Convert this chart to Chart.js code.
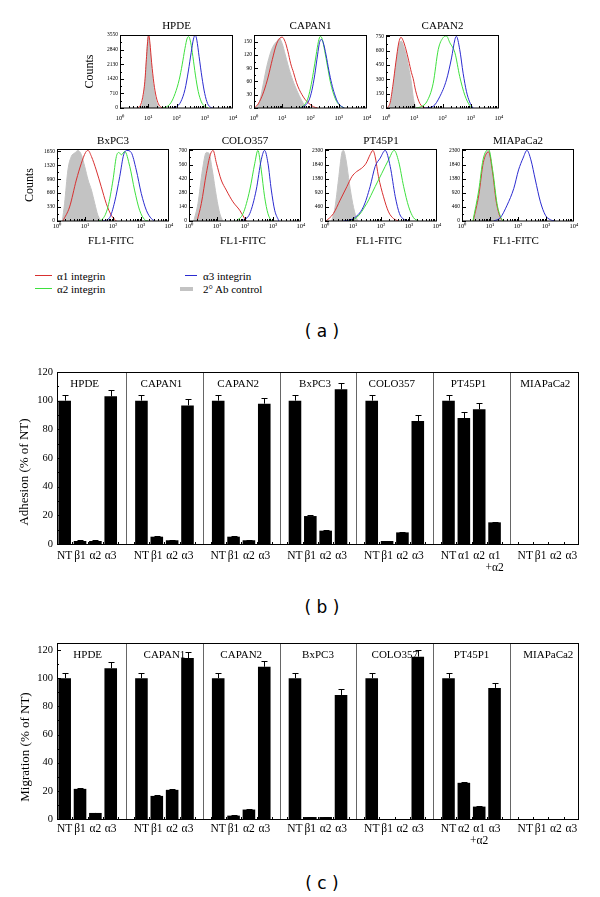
<!DOCTYPE html>
<html><head><meta charset="utf-8">
<script src="https://cdn.jsdelivr.net/npm/chart.js@4.4.0/dist/chart.umd.min.js"></script>
<style>
html,body{margin:0;padding:0;background:#fff;}
body{width:600px;height:897px;position:relative;overflow:hidden;font-family:"Liberation Serif",serif;color:#000;}
canvas{position:absolute;}
.lab{position:absolute;font-family:"DejaVu Sans",sans-serif;font-size:17px;line-height:20px;white-space:pre;transform:translate(-50%,-50%);}
.leg{position:absolute;font-size:11px;line-height:12px;white-space:nowrap;transform:translateY(-50%);}
.sw{position:absolute;}
</style></head><body>

<div class="sw" style="left:35px;top:275px;width:17px;height:1px;background:#d83030"></div>
<div class="leg" style="left:57px;top:276px">α1 integrin</div>
<div class="sw" style="left:35px;top:288px;width:17px;height:1px;background:#3ee03e"></div>
<div class="leg" style="left:57px;top:289px">α2 integrin</div>
<div class="sw" style="left:185px;top:275px;width:12px;height:1px;background:#2b2bd0"></div>
<div class="leg" style="left:203px;top:276px">α3 integrin</div>
<div class="sw" style="left:180px;top:287px;width:13px;height:4px;background:#c3c3c3"></div>
<div class="leg" style="left:203px;top:289px">2° Ab control</div>

<div class="lab" style="left:322px;top:331px">( a )</div>
<div class="lab" style="left:322px;top:607px">( b )</div>
<div class="lab" style="left:322px;top:883px">( c )</div>

<script>
// ---------------- DATA ----------------
const cellLines = ['HPDE','CAPAN1','CAPAN2','BxPC3','COLO357','PT45P1','MIAPaCa2'];

// (a) flow cytometry histograms: [log10(FL1-FITC), counts]
const decadeTicks = [0,1,2,3,4];
const decadeLabels = ['10⁰','10¹','10²','10³','10⁴'];

const hpdeCountTicks = [0,710,1420,2130,2840,3550];
const capan1CountTicks = [0,30,60,90,120,150];
const capan2CountTicks = [0,150,300,450,600,750];
const bxpc3CountTicks = [0,330,660,990,1320,1650];
const colo357CountTicks = [0,140,280,420,560,700];
const pt45p1CountTicks = [0,460,920,1380,1840,2300];
const miapaca2CountTicks = [0,460,920,1380,1840,2300];

const hpdeCtrl = [[0.72,0],[0.8,250],[0.88,1100],[0.94,2400],[0.98,3300],[1.01,3500],[1.05,3100],[1.1,2200],[1.17,1200],[1.25,500],[1.33,150],[1.42,0]];
const hpdeA1 = [[0.62,0],[0.72,120],[0.8,500],[0.88,1300],[0.94,2500],[0.99,3400],[1.02,3550],[1.06,3150],[1.12,2200],[1.2,1200],[1.28,550],[1.36,200],[1.45,40],[1.52,0]];
const hpdeA2 = [[1.5,0],[1.65,60],[1.8,250],[1.95,700],[2.1,1400],[2.2,2100],[2.3,2900],[2.38,3400],[2.43,3470],[2.5,3200],[2.58,2500],[2.67,1600],[2.77,800],[2.88,300],[3.0,80],[3.12,0]];
const hpdeA3 = [[1.85,0],[2.0,60],[2.15,300],[2.3,900],[2.42,1800],[2.52,2700],[2.6,3350],[2.66,3550],[2.72,3300],[2.8,2500],[2.9,1500],[3.0,700],[3.1,220],[3.2,40],[3.28,0]];

const capan1Ctrl = [[0.1,0],[0.2,15],[0.3,45],[0.45,93],[0.6,128],[0.7,142],[0.8,150],[0.9,157],[1.0,145],[1.1,122],[1.2,98],[1.3,76],[1.45,50],[1.6,28],[1.75,10],[1.88,0]];
const capan1A1 = [[0.0,0],[0.1,5],[0.2,15],[0.35,38],[0.5,70],[0.65,110],[0.8,145],[0.92,158],[1.0,160],[1.1,150],[1.2,128],[1.3,100],[1.4,80],[1.5,58],[1.6,42],[1.7,30],[1.8,20],[1.95,10],[2.1,3],[2.25,0]];
const capan1A2 = [[1.6,0],[1.75,5],[1.9,20],[2.0,45],[2.1,80],[2.2,120],[2.28,150],[2.35,162],[2.42,155],[2.5,130],[2.6,95],[2.7,60],[2.8,35],[2.9,18],[3.0,8],[3.2,0]];
const capan1A3 = [[1.65,0],[1.8,5],[1.95,18],[2.05,40],[2.15,75],[2.25,120],[2.32,148],[2.38,155],[2.45,148],[2.55,120],[2.65,85],[2.75,55],[2.85,32],[2.95,15],[3.05,6],[3.2,0]];

const capan2Ctrl = [[0.1,0],[0.2,100],[0.3,320],[0.4,560],[0.5,690],[0.55,700],[0.62,650],[0.7,570],[0.8,430],[0.9,260],[0.97,100],[1.05,0]];
const capan2A1 = [[0.05,0],[0.15,60],[0.25,250],[0.35,480],[0.45,680],[0.53,740],[0.6,710],[0.7,620],[0.8,500],[0.9,370],[0.96,311],[1.05,180],[1.2,46],[1.38,0]];
const capan2A2 = [[1.06,0],[1.25,15],[1.44,64],[1.67,258],[1.85,612],[2.02,736],[2.14,753],[2.26,683],[2.44,577],[2.61,329],[2.79,134],[2.96,28],[3.08,0]];
const capan2A3 = [[1.38,0],[1.67,18],[1.9,117],[2.14,294],[2.32,524],[2.44,718],[2.49,750],[2.61,612],[2.73,364],[2.85,170],[2.96,64],[3.08,0]];

const bxpc3Ctrl = [[0.19,0],[0.27,412],[0.39,1206],[0.51,1523],[0.63,1603],[0.75,1666],[0.87,1563],[0.99,1285],[1.11,968],[1.23,730],[1.35,412],[1.46,135],[1.58,0]];
const bxpc3A1 = [[0.21,0],[0.45,333],[0.69,968],[0.87,1364],[1.02,1618],[1.11,1666],[1.23,1523],[1.4,1206],[1.58,809],[1.76,412],[1.94,135],[2.12,0]];
const bxpc3A2 = [[1.46,0],[1.64,55],[1.82,333],[2.0,968],[2.12,1523],[2.21,1618],[2.3,1563],[2.42,1642],[2.6,1285],[2.77,730],[2.95,254],[3.13,32],[3.25,0]];
const bxpc3A3 = [[1.64,0],[1.88,79],[2.06,452],[2.24,1047],[2.38,1563],[2.5,1666],[2.65,1618],[2.83,1206],[3.01,651],[3.19,254],[3.37,55],[3.49,0]];

const colo357Ctrl = [[0.17,0],[0.32,173],[0.48,507],[0.62,680],[0.71,673],[0.83,507],[0.98,240],[1.1,73],[1.21,0]];
const colo357A1 = [[0.29,0],[0.44,173],[0.62,473],[0.76,657],[0.86,700],[0.98,573],[1.15,407],[1.33,307],[1.57,190],[1.81,107],[1.99,23],[2.05,0]];
const colo357A2 = [[1.69,0],[1.93,73],[2.17,307],[2.35,573],[2.46,700],[2.58,507],[2.7,240],[2.82,73],[2.94,0]];
const colo357A3 = [[1.9,0],[2.17,73],[2.4,307],[2.58,607],[2.7,700],[2.82,573],[2.94,307],[3.06,107],[3.21,0]];

const pt45p1Ctrl = [[0.24,0],[0.36,460],[0.48,1336],[0.6,2212],[0.66,2300],[0.75,1993],[0.87,1227],[0.99,570],[1.11,131],[1.19,0]];
const pt45p1A1 = [[0.04,0],[0.3,241],[0.54,679],[0.78,1117],[0.96,1446],[1.13,1610],[1.31,1720],[1.47,1884],[1.61,2158],[1.71,2300],[1.79,2103],[1.91,1446],[2.09,789],[2.27,296],[2.45,77],[2.63,0]];
const pt45p1A2 = [[0.78,0],[1.13,110],[1.49,570],[1.79,1117],[2.03,1555],[2.27,1993],[2.47,2300],[2.63,1939],[2.81,1117],[2.99,460],[3.16,110],[3.34,0]];
const pt45p1A3 = [[0.66,0],[1.01,77],[1.37,460],[1.61,1117],[1.79,1774],[1.97,2048],[2.15,2300],[2.33,1774],[2.51,789],[2.66,241],[2.83,44],[2.99,0]];

const miapaca2Ctrl = [[0.42,0],[0.6,789],[0.77,1884],[0.89,2267],[0.95,2300],[1.07,1664],[1.19,789],[1.31,186],[1.39,0]];
const miapaca2A1 = [[0.4,0],[0.6,850],[0.76,1900],[0.95,2250],[1.09,1600],[1.22,650],[1.35,150],[1.45,0]];
const miapaca2A2 = [[0.39,0],[0.6,1008],[0.75,1993],[0.95,2330],[1.11,1555],[1.25,570],[1.37,153],[1.46,0]];
const miapaca2A3 = [[1.13,0],[1.37,110],[1.61,515],[1.85,1063],[2.02,1664],[2.18,2048],[2.32,2300],[2.46,1993],[2.62,1336],[2.8,624],[2.98,186],[3.15,44],[3.33,0]];

// (b) adhesion and (c) migration, % of NT
const percentTicks = [0,20,40,60,80,100,120];
const adhesionTickLabels = [
  ['NT','β1','α2','α3'],['NT','β1','α2','α3'],['NT','β1','α2','α3'],['NT','β1','α2','α3'],
  ['NT','β1','α2','α3'],['NT','α1','α2',['α1','+α2']],['NT','β1','α2','α3']];
const adhesionValues = [
  [100,2.1,2.1,103],[100,5.1,2.6,96.7],[100,5.1,2.6,97.9],[100,19.5,9.3,107.9],
  [100,2.1,8.1,85.8],[100,87.9,94,15.1],[0,0,0,0]];
const adhesionErrors = [
  [4.2,0.4,0.4,4.2],[4.2,0.4,0.4,4.2],[4.2,0.4,0.4,4.2],[4.2,0.6,0.4,4.7],
  [4.2,0.3,0.4,4.2],[4.2,4,4.1,0.5],[0,0,0,0]];

const migrationTickLabels = [
  ['NT','β1','α2','α3'],['NT','β1','α2','α3'],['NT','β1','α2','α3'],['NT','β1','α2','α3'],
  ['NT','β1','α2','α3'],['NT','α2',['α1','+α2'],'α3'],['NT','β1','α2','α3']];
const migrationValues = [
  [100,21.4,4.3,107.1],[100,16.4,20.7,114.3],[100,2.4,6.7,108.1],[100,1.4,1.4,88.1],
  [100,0,0,115.3],[100,25.7,8.8,93.1],[0,0,0,0]];
const migrationErrors = [
  [4,0.7,0.3,4.1],[4,0.4,0.4,4.3],[4,0.3,0.3,4.3],[4,0.2,0.2,3.9],
  [4,0,0,4.5],[4,0.9,0.3,3.6],[0,0,0,0]];

// ---------------- RENDERING ----------------
const SERIF = '"Liberation Serif","Times New Roman",serif';
Chart.defaults.font.family = SERIF;
Chart.defaults.color = '#000';
const BLUE='#2b2bd0', GREEN='#3ee03e', RED='#d83030', GRAY='#c3c3c3';

function makeCanvas(left, top, w, h){
  const c = document.createElement('canvas');
  c.width = w; c.height = h;
  c.style.left = left+'px'; c.style.top = top+'px';
  c.style.width = w+'px'; c.style.height = h+'px';
  document.body.appendChild(c);
  return c;
}
function seg(ctx,x1,y1,x2,y2){ctx.beginPath();ctx.moveTo(x1,y1);ctx.lineTo(x2,y2);ctx.stroke();}

const histDecor = {
  id:'histDecor',
  afterDatasetsDraw(chart, args, o){
    const {ctx, chartArea:a, scales:{x,y}} = chart;
    ctx.save();
    ctx.strokeStyle='#000'; ctx.lineWidth=1;
    ctx.strokeRect(a.left+0.5, a.top+0.5, a.right-a.left-1, a.bottom-a.top-0.5);
    for(let d=0; d<4; d++){
      for(let k=1;k<=9;k++){
        const px = Math.round(x.getPixelForValue(d+Math.log10(k)))+0.5;
        seg(ctx,px,a.bottom,px,a.bottom-(k===1?4:2));
      }
    }
    const yt = y.ticks.map(t=>t.value);
    yt.forEach((v,i)=>{
      const py = Math.round(y.getPixelForValue(v))+0.5;
      seg(ctx,a.left,py,a.left+4,py);
      if(i<yt.length-1){
        const pm = Math.round(y.getPixelForValue((v+yt[i+1])/2))+0.5;
        seg(ctx,a.left,pm,a.left+2,pm);
      }
    });
    ctx.fillStyle='#000';
    ctx.textAlign='center'; ctx.textBaseline='middle';
    ctx.font = '11px '+SERIF;
    ctx.fillText(o.title,(a.left+a.right)/2,a.top-o.titleDy);
    if(o.xTitle){ ctx.font='11px '+SERIF; ctx.fillText(o.xTitle,(a.left+a.right)/2-2,a.bottom+20); }
    if(o.yTitle){
      ctx.translate(a.left-o.yTitleDx,(a.top+a.bottom)/2);
      ctx.rotate(-Math.PI/2);
      ctx.font='12px '+SERIF;
      ctx.fillText(o.yTitle,0,0);
    }
    ctx.restore();
  }
};

const HYW=45, HPT=22, HPR=12, HXH=30;
function histPanel(p){
  const [l,t,r,b] = p.box;
  const c = makeCanvas(l-HYW, t-HPT, HYW+(r-l)+HPR, HPT+(b-t)+HXH);
  const pts = arr => arr.map(([x,y])=>({x,y}));
  const line = (data,color)=>({data:pts(data),borderColor:color,borderWidth:1,fill:false,pointRadius:0,cubicInterpolationMode:'monotone'});
  const ctrl = {data:pts(p.ctrl),borderColor:GRAY,backgroundColor:GRAY,borderWidth:1,fill:'origin',pointRadius:0,cubicInterpolationMode:'monotone'};
  new Chart(c,{
    type:'line',
    data:{datasets:[line(p.a3,BLUE),line(p.a2,GREEN),line(p.a1,RED),ctrl]},
    options:{
      responsive:false, animation:false, devicePixelRatio:1,
      layout:{padding:{left:0,top:HPT,right:HPR,bottom:0}},
      plugins:{legend:{display:false},tooltip:{enabled:false},
        histDecor:{title:p.title,titleDy:p.titleDy,xTitle:p.xTitle,yTitle:p.yTitle,yTitleDx:p.yTitleDx}},
      scales:{
        x:{type:'linear',min:0,max:4,
          afterBuildTicks:s=>{s.ticks=decadeTicks.map(v=>({value:v}));},
          ticks:{callback:v=>decadeLabels[v],font:{size:6.5,family:SERIF},padding:p.xPad,maxRotation:0,autoSkip:false},
          grid:{display:false,drawTicks:false},border:{display:false},
          afterFit:s=>{s.height=HXH;s.paddingLeft=0;s.paddingRight=0;}},
        y:{type:'linear',min:0,max:p.max,
          afterBuildTicks:s=>{s.ticks=p.yTicks.map(v=>({value:v}));},
          ticks:{callback:v=>String(v),font:{size:5.5,family:SERIF},padding:2,autoSkip:false},
          grid:{display:false,drawTicks:false},border:{display:false},
          afterFit:s=>{s.width=HYW;s.paddingTop=0;s.paddingBottom=0;}}
      }
    },
    plugins:[histDecor]
  });
}

histPanel({box:[120,35,233,108],title:cellLines[0],titleDy:9,max:3550,yTicks:hpdeCountTicks,ctrl:hpdeCtrl,a1:hpdeA1,a2:hpdeA2,a3:hpdeA3,xPad:6,yTitle:'Counts',yTitleDx:30});
histPanel({box:[254,35,367,108],title:cellLines[1],titleDy:9,max:165,yTicks:capan1CountTicks,ctrl:capan1Ctrl,a1:capan1A1,a2:capan1A2,a3:capan1A3,xPad:6});
histPanel({box:[386,35,499,108],title:cellLines[2],titleDy:9,max:764,yTicks:capan2CountTicks,ctrl:capan2Ctrl,a1:capan2A1,a2:capan2A2,a3:capan2A3,xPad:6});
histPanel({box:[57,149,169,221],title:cellLines[3],titleDy:8,max:1700,yTicks:bxpc3CountTicks,ctrl:bxpc3Ctrl,a1:bxpc3A1,a2:bxpc3A2,a3:bxpc3A3,xPad:1,xTitle:'FL1-FITC',yTitle:'Counts',yTitleDx:27});
histPanel({box:[189,149,301,221],title:cellLines[4],titleDy:8,max:714,yTicks:colo357CountTicks,ctrl:colo357Ctrl,a1:colo357A1,a2:colo357A2,a3:colo357A3,xPad:1,xTitle:'FL1-FITC'});
histPanel({box:[325,149,437,221],title:cellLines[5],titleDy:8,max:2346,yTicks:pt45p1CountTicks,ctrl:pt45p1Ctrl,a1:pt45p1A1,a2:pt45p1A2,a3:pt45p1A3,xPad:1,xTitle:'FL1-FITC'});
histPanel({box:[462,149,574,221],title:cellLines[6],titleDy:8,max:2346,yTicks:miapaca2CountTicks,ctrl:miapaca2Ctrl,a1:miapaca2A1,a2:miapaca2A2,a3:miapaca2A3,xPad:1,xTitle:'FL1-FITC'});

// ---- bar panels ----
const barDecor = {
  id:'barDecor',
  afterDatasetsDraw(chart,args,o){
    const {ctx, chartArea:a, scales:{x,y}} = chart;
    ctx.save();
    ctx.lineWidth=1;
    ctx.strokeStyle='#666';
    o.seps.forEach(i=>{const px=Math.round(x.getPixelForValue(i))+0.5; seg(ctx,px,a.top,px,a.bottom);});
    ctx.strokeStyle='#000';
    ctx.strokeRect(a.left+0.5,a.top+0.5,a.right-a.left-1,a.bottom-a.top);
    for(let v=0; v<=o.yMaxTick; v+=10){
      const py=Math.round(y.getPixelForValue(v))+0.5;
      seg(ctx,a.left,py,a.left+(v%20===0?4:2),py);
    }
    const n = chart.data.labels.length;
    const slot = (a.right-a.left)/n;
    for(let i=1;i<n;i++){
      const px=Math.round(a.left+i*slot)+0.5;
      seg(ctx,px,a.bottom,px,a.bottom-2);
    }
    const vals = chart.data.datasets[0].data;
    o.errs.forEach((e,i)=>{
      if(!e || vals[i]==null) return;
      const px=Math.round(x.getPixelForValue(i))+0.5;
      const y0=y.getPixelForValue(vals[i]), y1=Math.round(y.getPixelForValue(vals[i]+e))+0.5;
      seg(ctx,px,y0,px,y1);
      seg(ctx,px-3,y1,px+3,y1);
    });
    ctx.fillStyle='#000'; ctx.font='11px '+SERIF; ctx.textAlign='center'; ctx.textBaseline='middle';
    o.groups.forEach((g,gi)=>{
      const [s,e]=o.groupIdx[gi];
      const cx=(x.getPixelForValue(s)+x.getPixelForValue(e))/2+o.titleDx;
      ctx.fillText(g,cx,a.top+12);
    });
    ctx.translate(o.yTitleX,o.yTitleY); ctx.rotate(-Math.PI/2);
    ctx.font='13px '+SERIF;
    ctx.fillText(o.yTitle,0,0);
    ctx.restore();
  }
};

function barPanel(p){
  const labels=[], values=[], errs=[], seps=[], groupIdx=[];
  p.groups.forEach((g,gi)=>{
    const s=labels.length;
    p.tickLabels[gi].forEach((lb,k)=>{labels.push(lb);values.push(p.values[gi][k]);errs.push(p.errors[gi][k]);});
    groupIdx.push([s,labels.length-1]);
    if(gi<p.groups.length-1){seps.push(labels.length);labels.push('');values.push(null);errs.push(0);}
  });
  const [l,t,r,b]=p.box;
  const cTop=t-p.padTop, cH=p.padTop+(b-t)+p.xh;
  const c=makeCanvas(0,cTop,600,cH);
  new Chart(c,{
    type:'bar',
    data:{labels,datasets:[{data:values,backgroundColor:'#000',borderWidth:0,barPercentage:0.82,categoryPercentage:1}]},
    options:{
      responsive:false,animation:false,devicePixelRatio:1,
      layout:{padding:{left:0,top:p.padTop,right:600-r,bottom:0}},
      plugins:{legend:{display:false},tooltip:{enabled:false},
        barDecor:{errs,seps,groupIdx,groups:p.groups,yTitle:p.yTitle,yTitleX:p.yTitleX,yTitleY:p.yTitleY-cTop,yMaxTick:120,titleDx:p.titleDx}},
      scales:{
        x:{type:'category',offset:true,
          ticks:{autoSkip:false,maxRotation:0,minRotation:0,font:{size:11.5,lineHeight:1.0,family:SERIF},padding:p.xPad},
          grid:{display:false,drawTicks:false},border:{display:false},
          afterFit:s=>{s.height=p.xh;s.paddingLeft=0;s.paddingRight=0;}},
        y:{min:0,max:p.max,
          afterBuildTicks:s=>{s.ticks=percentTicks.map(v=>({value:v}));},
          ticks:{callback:v=>String(v),font:{size:10.5,family:SERIF},padding:4,autoSkip:false},
          grid:{display:false,drawTicks:false},border:{display:false},
          afterFit:s=>{s.width=l;s.paddingTop=0;s.paddingBottom=0;}}
      }
    },
    plugins:[barDecor]
  });
}

barPanel({box:[57,372,579,544],padTop:20,xh:30,max:120,groups:cellLines,tickLabels:adhesionTickLabels,values:adhesionValues,errors:adhesionErrors,
  yTitle:'Adhesion (% of NT)',yTitleX:25,yTitleY:472,xPad:6.5,titleDx:-3});
barPanel({box:[57,643,579,819],padTop:20,xh:30,max:125,groups:cellLines,tickLabels:migrationTickLabels,values:migrationValues,errors:migrationErrors,
  yTitle:'Migration (% of NT)',yTitleX:26,yTitleY:747,xPad:4.5,titleDx:0});
</script>
</body></html>
